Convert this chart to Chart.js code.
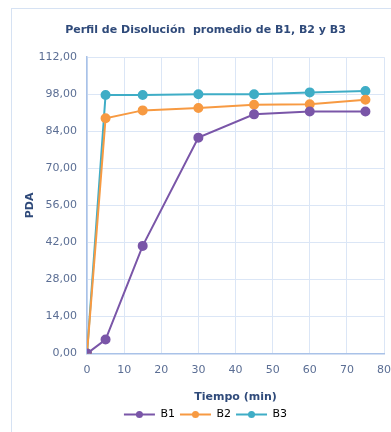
<!DOCTYPE html>
<html>
<head>
<meta charset="utf-8">
<script src="https://cdn.jsdelivr.net/npm/chart.js@4"></script>
<style>
  html, body { margin: 0; padding: 0; background: #fff; }
  #wrap { position: relative; width: 391px; height: 432px; }
  #frame { position: absolute; left: 11px; top: 8px; width: 400px; height: 440px;
           border-left: 1px solid #d6e2f3; border-top: 1px solid #d6e2f3; box-sizing: border-box; }
  canvas { position: absolute; left: 0; top: 0; }
</style>
</head>
<body>
<div id="wrap">
  <div id="frame"></div>
  <canvas id="c" width="391" height="432"></canvas>
</div>
<script>
// Sampling times (min)
const tiempos = [0, 5, 15, 30, 45, 60, 75];
// Mean dissolved percentage per batch
const b1 = [0, 5.3, 40.7, 81.6, 90.4, 91.5, 91.5];
const b2 = [0, 88.9, 91.9, 92.8, 94.0, 94.2, 95.9];
const b3 = [0, 97.7, 97.7, 98.0, 98.0, 98.7, 99.2];
const seriesNames = ['B1', 'B2', 'B3'];
const yTicks = [0, 14, 28, 42, 56, 70, 84, 98, 112];
const xTicks = [0, 10, 20, 30, 40, 50, 60, 70, 80];

const colors = ['#7a56a8', '#f79a42', '#3fadc6'];
const toPoints = arr => arr.map((v, i) => ({ x: tiempos[i], y: v }));

const datasets = [b1, b2, b3].map((arr, i) => ({
  label: seriesNames[i],
  data: toPoints(arr),
  borderColor: colors[i],
  backgroundColor: colors[i],
  borderWidth: 2,
  pointRadius: 4,
  pointHoverRadius: 4,
  tension: 0
}));

const FONT = 'DejaVu Sans';
const labelColor = '#5b6e94';
const titleColor = '#2f4a7a';

new Chart(document.getElementById('c'), {
  type: 'line',
  data: { datasets },
  options: {
    responsive: false,
    animation: false,
    layout: { padding: { left: 20, right: 0, top: 20, bottom: 2 } },
    plugins: {
      title: {
        display: true,
        text: 'Perfil de Disolución  promedio de B1, B2 y B3',
        color: titleColor,
        font: { family: FONT, size: 11, weight: 'bold' },
        padding: { top: 4, bottom: 20 }
      },
      legend: {
        position: 'bottom',
        labels: {
          boxWidth: 31,
          boxHeight: 0,
          color: labelColor,
          font: { family: FONT, size: 11 },
          padding: 5,
          generateLabels: chart => chart.data.datasets.map((d, i) => ({
            text: d.label,
            fillStyle: d.borderColor,
            strokeStyle: d.borderColor,
            lineWidth: 2,
            pointStyle: 'line',
            datasetIndex: i
          }))
        }
      },
      tooltip: { enabled: false }
    },
    scales: {
      x: {
        type: 'linear',
        min: 0, max: 80,
        afterBuildTicks: s => { s.ticks = xTicks.map(v => ({ value: v })); },
        afterFit: s => { s.paddingRight = 7; },
        ticks: {
          color: labelColor,
          font: { family: FONT, size: 11 },
          padding: 10,
          maxRotation: 0
        },
        grid: { color: '#dbe6f6', lineWidth: 1, drawTicks: false },
        border: { color: '#a9c2e8', width: 1.5 },
        title: {
          display: true,
          text: 'Tiempo (min)',
          color: titleColor,
          font: { family: FONT, size: 11, weight: 'bold' },
          padding: { top: 4, bottom: 0 }
        }
      },
      y: {
        min: 0, max: 112,
        afterBuildTicks: s => { s.ticks = yTicks.map(v => ({ value: v })); },
        afterFit: s => { s.width = 67; },
        ticks: {
          color: labelColor,
          font: { family: FONT, size: 11 },
          padding: 10,
          callback: v => v.toFixed(2).replace('.', ',')
        },
        grid: { color: '#dbe6f6', lineWidth: 1, drawTicks: false },
        border: { color: '#a9c2e8', width: 1.5 },
        title: {
          display: true,
          text: 'PDA',
          color: titleColor,
          font: { family: FONT, size: 11, weight: 'bold' },
          padding: { top: 4, bottom: 0 }
        }
      }
    }
  },
  plugins: [{
    id: 'legendLineDots',
    afterDraw(chart) {
      const lg = chart.legend;
      if (!lg || !lg.legendHitBoxes) return;
      const ctx = chart.ctx;
      lg.legendHitBoxes.forEach((box, i) => {
        const cx = box.left + 15.5;
        const cy = box.top + box.height / 2;
        ctx.save();
        ctx.fillStyle = colors[i];
        ctx.beginPath();
        ctx.arc(cx, cy, 3.5, 0, Math.PI * 2);
        ctx.fill();
        ctx.restore();
      });
    }
  }]
});
</script>
</body>
</html>
